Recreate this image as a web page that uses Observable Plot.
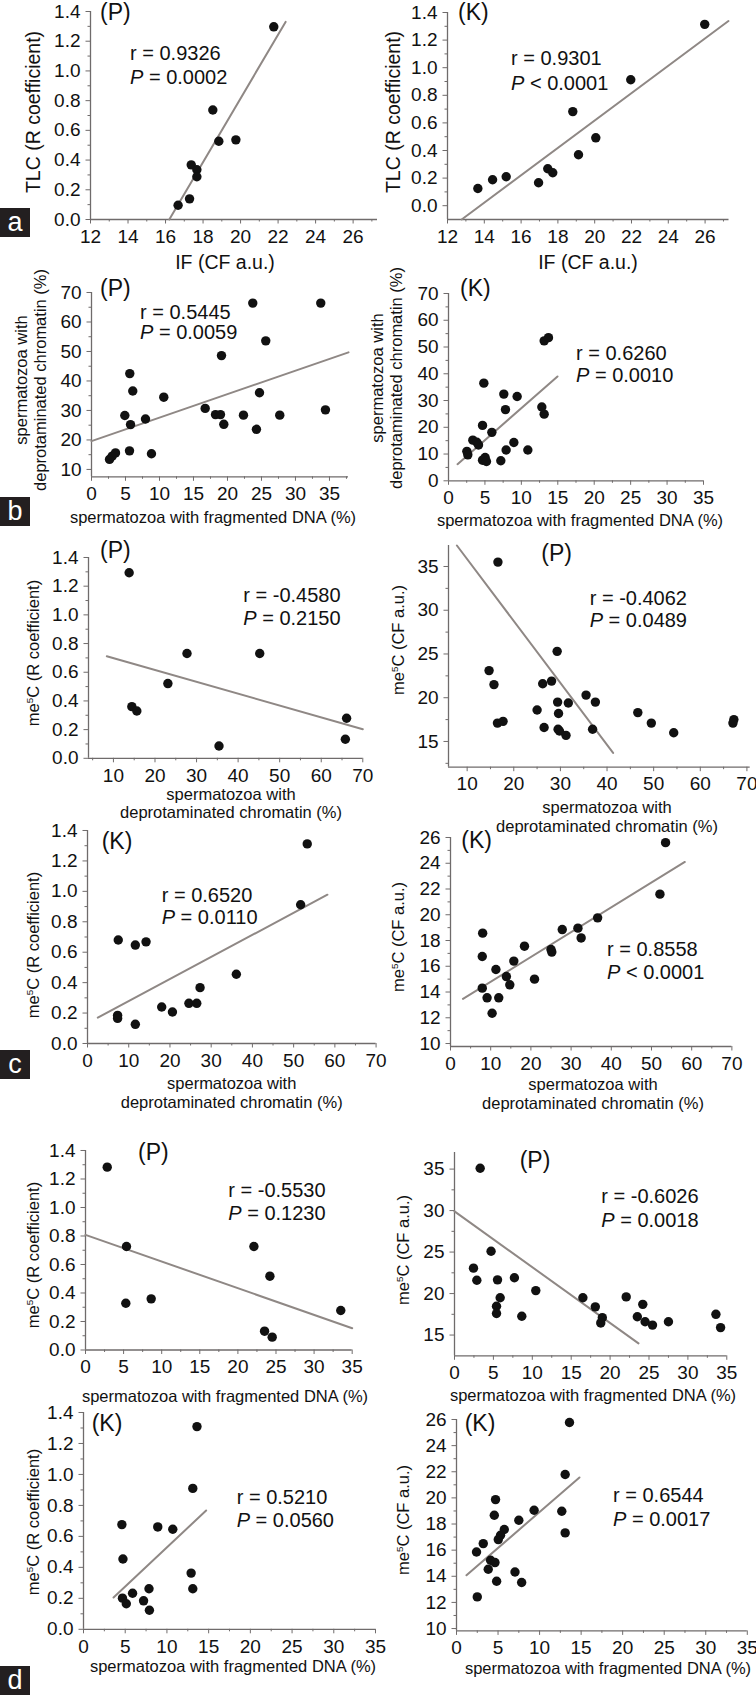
<!DOCTYPE html>
<html><head><meta charset="utf-8">
<script src="https://cdn.jsdelivr.net/npm/d3@7"></script>
<script src="https://cdn.jsdelivr.net/npm/@observablehq/plot@0.6"></script>
<style>
body{margin:0;background:#fff;}
#root{position:relative;width:756px;height:1695px;overflow:hidden;font-family:"Liberation Sans",Arial,sans-serif;color:#111;}
.lbl{position:absolute;white-space:nowrap;line-height:1.15;text-align:center;}
.stat{position:absolute;white-space:nowrap;line-height:1;font-size:20px;transform:translateY(-50%);}
.grp{position:absolute;white-space:nowrap;line-height:1;font-size:23px;}
.tag{position:absolute;background:#231f20;color:#fff;width:30px;font-size:27px;text-align:center;line-height:28px;height:29px;}
sup{font-size:0.6em;vertical-align:0.6em;line-height:0;}
</style></head><body><div id="root"></div>
<script>
// ================= DATA =================
// (a) TLC (R coefficient) vs IF (CF a.u.)
const aP_IF  = [21.77, 18.52, 18.84, 19.75, 17.37, 17.67, 17.67, 17.28, 16.67];
const aP_TLC = [1.297, 0.737, 0.527, 0.536, 0.368, 0.335, 0.288, 0.139, 0.096];
const aP_fitX = [16.2, 22.4], aP_fitY = [0.0, 1.33];
const aK_IF  = [25.98, 21.96, 18.81, 20.06, 19.12, 17.45, 17.72, 16.95, 15.19, 14.45, 13.65];
const aK_TLC = [1.314, 0.913, 0.682, 0.492, 0.369, 0.268, 0.239, 0.166, 0.210, 0.188, 0.125];
const aK_fitX = [12.77, 27.27], aK_fitY = [-0.1, 1.338];
// (b) deprotaminated chromatin (%) vs fragmented DNA (%)
const bP_frag = [2.65, 3.04, 3.53, 5.59, 8.82, 4.90, 5.74, 5.63, 6.07, 7.94, 10.63, 16.72, 18.24, 18.97, 19.46, 19.12, 22.35, 23.72, 24.26, 24.71, 25.63, 27.69, 33.72, 34.41];
const bP_dep  = [13.4, 14.5, 15.6, 16.3, 15.3, 28.3, 25.2, 42.5, 36.6, 27.1, 34.5, 30.7, 28.6, 28.6, 25.3, 48.6, 28.4, 66.4, 23.6, 36.0, 53.6, 28.4, 66.4, 30.2];
const bP_fitX = [0, 37.8], bP_fitY = [19.6, 49.7];
const bK_frag = [2.52, 2.65, 3.34, 3.89, 4.12, 4.67, 4.85, 4.67, 5.03, 5.21, 5.95, 7.18, 7.59, 7.82, 7.91, 8.97, 9.42, 10.89, 12.81, 13.13, 13.13, 13.72];
const bK_dep  = [11.0, 9.7, 15.2, 14.4, 13.4, 20.7, 36.5, 7.7, 8.7, 7.2, 18.1, 7.5, 32.4, 26.6, 11.5, 14.3, 31.5, 11.5, 27.6, 24.9, 52.3, 53.5];
const bK_fitX = [1.24, 14.96], bK_fitY = [6.2, 39.0];
// (c) me5C vs deprotaminated chromatin (%)
const cP_dep = [13.78, 14.43, 15.63, 23.1, 27.7, 45.2, 66.1, 35.4, 65.8];
const cP_R   = [1.294, 0.36, 0.33, 0.521, 0.731, 0.731, 0.279, 0.086, 0.133];
const cP_R_fitX = [8.4, 70], cP_R_fitY = [0.712, 0.202];
const cP_dep2 = [16.6, 14.7, 15.75, 29.3, 26.2, 28.1, 29.4, 31.7, 35.5, 37.5, 25.0, 29.6, 46.6, 49.5, 67.2, 16.5, 17.7, 26.5, 29.5, 29.8, 31.2, 36.9, 54.3, 67.0];
const cP_CF   = [35.5, 23.1, 21.5, 25.3, 21.6, 21.9, 19.5, 19.4, 20.3, 19.5, 18.6, 18.2, 18.3, 17.1, 17.5, 17.1, 17.3, 16.6, 16.4, 16.2, 15.7, 16.4, 16.0, 17.1];
const cP_CF_fitX = [7.8, 41.3], cP_CF_fitY = [37.4, 13.7];
const cK_dep = [53.3, 51.7, 7.46, 11.6, 14.2, 36.1, 27.3, 7.3, 7.3, 11.6, 18.0, 20.6, 24.6, 26.5];
const cK_R   = [1.312, 0.912, 0.68, 0.647, 0.668, 0.455, 0.367, 0.185, 0.165, 0.126, 0.24, 0.207, 0.264, 0.264];
const cK_R_fitX = [2.5, 58.2], cK_R_fitY = [0.17, 0.978];
const cK_dep2 = [53.5, 52.1, 36.6, 31.7, 32.5, 27.8, 25.0, 25.2, 18.4, 8.0, 7.9, 11.3, 15.75, 13.9, 14.75, 20.9, 7.9, 9.1, 12.0, 10.35];
const cK_CF   = [25.6, 21.6, 19.76, 18.96, 18.2, 18.85, 17.3, 17.1, 17.56, 18.57, 16.76, 15.75, 16.4, 15.2, 14.56, 15.0, 14.3, 13.55, 13.55, 12.35];
const cK_CF_fitX = [3.1, 58.3], cK_CF_fitY = [13.47, 24.1];
// (d) me5C vs fragmented DNA (%)
const dP_frag = [2.85, 5.38, 22.1, 24.2, 5.29, 8.62, 33.5, 23.5, 24.5];
const dP_R    = [1.283, 0.726, 0.726, 0.518, 0.328, 0.359, 0.277, 0.132, 0.09];
const dP_R_fitX = [0, 35], dP_R_fitY = [0.808, 0.153];
const dP_frag2 = [3.3, 4.7, 2.44, 2.87, 5.53, 7.7, 10.45, 5.87, 5.4, 5.4, 8.65, 16.5, 18.1, 19.0, 18.8, 22.07, 24.2, 23.5, 24.5, 25.45, 27.5, 33.6, 34.2];
const dP_CF    = [35.1, 25.1, 23.06, 21.6, 21.65, 21.9, 20.36, 19.5, 18.47, 17.6, 17.27, 19.5, 18.4, 17.1, 16.46, 19.6, 18.7, 17.2, 16.6, 16.2, 16.6, 17.5, 15.9];
const dP_CF_fitX = [0, 23.65], dP_CF_fitY = [29.9, 14.0];
const dK_frag = [13.6, 13.1, 4.6, 8.9, 10.7, 4.73, 12.9, 13.1, 7.85, 5.88, 4.67, 5.13, 7.2, 7.9];
const dK_R    = [1.309, 0.91, 0.676, 0.661, 0.646, 0.454, 0.363, 0.262, 0.262, 0.233, 0.201, 0.165, 0.184, 0.123];
const dK_R_fitX = [3.6, 14.7], dK_R_fitY = [0.205, 0.767];
const dK_frag2 = [13.6, 13.08, 4.7, 9.34, 12.67, 4.55, 7.5, 5.75, 5.3, 5.03, 13.08, 3.22, 2.41, 4.1, 4.63, 3.82, 7.04, 4.83, 7.84, 2.5];
const dK_CF    = [25.77, 21.79, 19.87, 19.05, 18.98, 18.67, 18.29, 17.58, 17.14, 16.81, 17.32, 16.5, 15.86, 15.23, 15.05, 14.54, 14.33, 13.62, 13.52, 12.42];
const dK_CF_fitX = [1.2, 14.8], dK_CF_fitY = [14.08, 21.56];

// tick labels
const ticksIF   = [12, 14, 16, 18, 20, 22, 24, 26];
const ticksR    = [0, 0.2, 0.4, 0.6, 0.8, 1.0, 1.2, 1.4];
const ticksFrag = [0, 5, 10, 15, 20, 25, 30, 35];
const ticksDepB = [10, 20, 30, 40, 50, 60, 70];
const ticksDepB0 = [0, 10, 20, 30, 40, 50, 60, 70];
const ticksDepC1 = [10, 20, 30, 40, 50, 60, 70];
const ticksDepC0 = [0, 10, 20, 30, 40, 50, 60, 70];
const ticksCF35 = [15, 20, 25, 30, 35];
const ticksCF26 = [10, 12, 14, 16, 18, 20, 22, 24, 26];

// texts
const statsR = ["0.9326","0.9301","0.5445","0.6260","-0.4580","-0.4062","0.6520","0.8558","-0.5530","-0.6026","0.5210","0.6544"];
const statsP = ["= 0.0002","< 0.0001","= 0.0059","= 0.0010","= 0.2150","= 0.0489","= 0.0110","< 0.0001","= 0.1230","= 0.0018","= 0.0560","= 0.0017"];
const groups = ["(P)","(K)","(P)","(K)","(P)","(P)","(K)","(K)","(P)","(P)","(K)","(K)"];

// ================= LAYOUT =================
const AXIS = "#6f6b6b", FIT = "#8f8885", DOT = "#111";
const FONT = "Liberation Sans, Arial, sans-serif";
const root = document.getElementById("root");
const f1 = d3.format(".1f");
const mk = (xs, ys) => xs.map((x, i) => ({x, y: ys[i]}));

const panels = [
  {xs:aP_IF, ys:aP_TLC, fx:aP_fitX, fy:aP_fitY, X0:90, X1:377, Y0:11, Y1:219, xd:[12,27.3], yd:[0,1.4], xt:ticksIF, xm:d3.range(13,28,2), yt:ticksR, ym:d3.range(0.1,1.4,0.2), yf:f1,
   stat:[130,53,77], grp:[100,14]},
  {xs:aK_IF, ys:aK_TLC, fx:aK_fitX, fy:aK_fitY, X0:446.5, X1:728, Y0:12, Y1:219, xd:[12,27.3], yd:[-0.1,1.4], xt:ticksIF, xm:d3.range(13,28,2), yt:ticksR, ym:d3.range(0.1,1.4,0.2), yf:f1,
   stat:[511,58,83], grp:[458,14]},
  {xs:bP_frag, ys:bP_dep, fx:bP_fitX, fy:bP_fitY, X0:91, X1:348, Y0:291.7, Y1:476, xd:[0,37.8], yd:[7.5,70], xt:ticksFrag, xm:d3.range(2.5,38,5), yt:ticksDepB, ym:d3.range(15,70,10), yf:null,
   stat:[140,311.7,331.7], grp:[100,290]},
  {xs:bK_frag, ys:bK_dep, fx:bK_fitX, fy:bK_fitY, X0:448, X1:703, Y0:292.7, Y1:480, xd:[0,35], yd:[0,70], xt:ticksFrag, xm:d3.range(2.5,35,5), yt:ticksDepB0, ym:d3.range(5,70,10), yf:null,
   stat:[576,352.7,375], grp:[460,290]},
  {xs:cP_dep, ys:cP_R, fx:cP_R_fitX, fy:cP_R_fitY, X0:88, X1:362.3, Y0:556.7, Y1:757.5, xd:[4,70], yd:[0,1.4], xt:ticksDepC1, xm:d3.range(5,70,10), yt:ticksR, ym:d3.range(0.1,1.4,0.2), yf:f1,
   stat:[243.3,595,618.3], grp:[100,551.7]},
  {xs:cP_dep2, ys:cP_CF, fx:cP_CF_fitX, fy:cP_CF_fitY, X0:448, X1:749.7, Y0:545, Y1:766.7, xd:[6,70.7], yd:[12.06,37.4], xt:ticksDepC1, xm:d3.range(15,70,10), yt:ticksCF35, ym:d3.range(12.5,37,5), yf:null,
   stat:[589.7,597.7,620], grp:[541.3,555]},
  {xs:cK_dep, ys:cK_R, fx:cK_R_fitX, fy:cK_R_fitY, X0:87, X1:375.6, Y0:830, Y1:1043, xd:[0,70], yd:[0,1.4], xt:ticksDepC0, xm:d3.range(5,70,10), yt:ticksR, ym:d3.range(0.1,1.4,0.2), yf:f1,
   stat:[161.7,895,916.7], grp:[101.7,843]},
  {xs:cK_dep2, ys:cK_CF, fx:cK_CF_fitX, fy:cK_CF_fitY, X0:449.7, X1:731.1, Y0:837, Y1:1046, xd:[0,70], yd:[9.77,26], xt:ticksDepC0, xm:d3.range(5,70,10), yt:ticksCF26, ym:d3.range(11,26,2), yf:null,
   stat:[607,949,971.5], grp:[461.3,841.7]},
  {xs:dP_frag, ys:dP_R, fx:dP_R_fitX, fy:dP_R_fitY, X0:85, X1:351.7, Y0:1150, Y1:1349.5, xd:[0,35], yd:[0,1.4], xt:ticksFrag, xm:d3.range(2.5,35,5), yt:ticksR, ym:d3.range(0.1,1.4,0.2), yf:f1,
   stat:[228.3,1190,1213.3], grp:[138,1154]},
  {xs:dP_frag2, ys:dP_CF, fx:dP_CF_fitX, fy:dP_CF_fitY, X0:454, X1:726.3, Y0:1151.7, Y1:1355, xd:[0,35], yd:[12.5,37], xt:ticksFrag, xm:d3.range(2.5,35,5), yt:ticksCF35, ym:d3.range(17.5,37,5), yf:null,
   stat:[601.3,1195.7,1220], grp:[519.7,1161.7]},
  {xs:dK_frag, ys:dK_R, fx:dK_R_fitX, fy:dK_R_fitY, X0:83, X1:375, Y0:1411.7, Y1:1628.5, xd:[0,35], yd:[0,1.4], xt:ticksFrag, xm:d3.range(2.5,35,5), yt:ticksR, ym:d3.range(0.1,1.4,0.2), yf:f1,
   stat:[236.7,1496.7,1520], grp:[91.7,1425]},
  {xs:dK_frag2, ys:dK_CF, fx:dK_CF_fitX, fy:dK_CF_fitY, X0:455.5, X1:746.3, Y0:1419.3, Y1:1630.7, xd:[0,35], yd:[9.82,26], xt:ticksFrag, xm:d3.range(2.5,35,5), yt:ticksCF26, ym:d3.range(11,26,2), yf:null,
   stat:[613,1495,1519.3], grp:[464.7,1425]}
];

const ML = 60, MR = 14, MT = 10, MB = 40;
panels.forEach((p, i) => {
  const chart = Plot.plot({
    width: (p.X1 - p.X0) + ML + MR,
    height: (p.Y1 - p.Y0) + MT + MB,
    marginLeft: ML, marginRight: MR, marginTop: MT, marginBottom: MB,
    x: {domain: p.xd},
    y: {domain: p.yd},
    style: {fontFamily: FONT, fontSize: "19px", background: "transparent", color: "#111", overflow: "visible"},
    marks: [
      Plot.axisX({ticks: p.xm, tickSize: 2.5, text: null, stroke: AXIS, label: null}),
      Plot.axisX({ticks: p.xt, tickSize: 4.5, tickPadding: 5.3, stroke: AXIS, fill: "#111", fontSize: 19, label: null}),
      Plot.axisY({ticks: p.ym, tickSize: 2.5, text: null, stroke: AXIS, label: null}),
      Plot.axisY({ticks: p.yt, tickSize: 4.5, tickPadding: 5.5, stroke: AXIS, fill: "#111", fontSize: 19, label: null, tickFormat: p.yf || undefined}),
      Plot.ruleY([p.yd[0]], {stroke: AXIS, strokeWidth: 1.3}),
      Plot.ruleX([p.xd[0]], {stroke: AXIS, strokeWidth: 1.3}),
      Plot.line(mk(p.fx, p.fy), {x: "x", y: "y", stroke: FIT, strokeWidth: 2}),
      Plot.dot(mk(p.xs, p.ys), {x: "x", y: "y", r: 4.7, fill: DOT})
    ]
  });
  chart.style.position = "absolute";
  chart.style.left = (p.X0 - ML) + "px";
  chart.style.top = (p.Y0 - MT) + "px";
  chart.style.overflow = "visible";
  root.appendChild(chart);

  const s1 = document.createElement("div");
  s1.className = "stat"; s1.style.left = p.stat[0] + "px"; s1.style.top = p.stat[1] + "px";
  s1.textContent = "r = " + statsR[i];
  root.appendChild(s1);
  const s2 = document.createElement("div");
  s2.className = "stat"; s2.style.left = p.stat[0] + "px"; s2.style.top = p.stat[2] + "px";
  s2.innerHTML = "<i>P</i> " + statsP[i];
  root.appendChild(s2);
  const g = document.createElement("div");
  g.className = "grp"; g.style.left = p.grp[0] + "px"; g.style.top = (p.grp[1] - 13) + "px";
  g.textContent = groups[i];
  root.appendChild(g);
});

// axis titles
function title(html, x, y, size, rotate) {
  const d = document.createElement("div");
  d.className = "lbl";
  d.innerHTML = html;
  d.style.left = x + "px"; d.style.top = y + "px";
  d.style.fontSize = size + "px";
  d.style.transform = "translate(-50%,-50%)" + (rotate ? " rotate(-90deg)" : "");
  root.appendChild(d);
}
const T_TLC = "TLC (R coefficient)", T_IF = "IF (CF a.u.)";
const T_DEP = "spermatozoa with<br>deprotaminated chromatin (%)";
const T_FRAG = "spermatozoa with fragmented DNA (%)";
const T_MER = "me<sup>5</sup>C (R coefficient)", T_MECF = "me<sup>5</sup>C (CF a.u.)";
title(T_TLC, 33, 112, 19.5, true);
title(T_TLC, 393, 112, 19.5, true);
title(T_IF, 225, 262, 19.5, false);
title(T_IF, 588, 262, 19.5, false);
title(T_DEP, 31, 380, 16.5, true);
title(T_DEP, 387, 378, 16.5, true);
title(T_FRAG, 213, 517, 16.5, false);
title(T_FRAG, 580, 520, 16.5, false);
title(T_MER, 33, 653, 16.5, true);
title(T_MECF, 398, 640, 16.5, true);
title(T_DEP, 231, 803.5, 16.5, false);
title(T_DEP, 607, 816.7, 16.5, false);
title(T_MER, 33, 945, 16.5, true);
title(T_MECF, 398, 937, 16.5, true);
title(T_DEP, 231.7, 1093.3, 16.5, false);
title(T_DEP, 593, 1094.3, 16.5, false);
title(T_MER, 33, 1255, 16.5, true);
title(T_MECF, 403, 1250, 16.5, true);
title(T_FRAG, 225, 1396, 16.5, false);
title(T_FRAG, 593, 1395, 16.5, false);
title(T_MER, 33.3, 1522, 16.5, true);
title(T_MECF, 403, 1520, 16.5, true);
title(T_FRAG, 233, 1666, 16.5, false);
title(T_FRAG, 608, 1667.7, 16.5, false);

// panel tags
const tags = ["a", "b", "c", "d"], tagTops = [208, 497, 1050, 1666];
tags.forEach((t, i) => {
  const d = document.createElement("div");
  d.className = "tag"; d.style.left = "0px"; d.style.top = tagTops[i] + "px";
  d.textContent = t;
  root.appendChild(d);
});
</script></body></html>
